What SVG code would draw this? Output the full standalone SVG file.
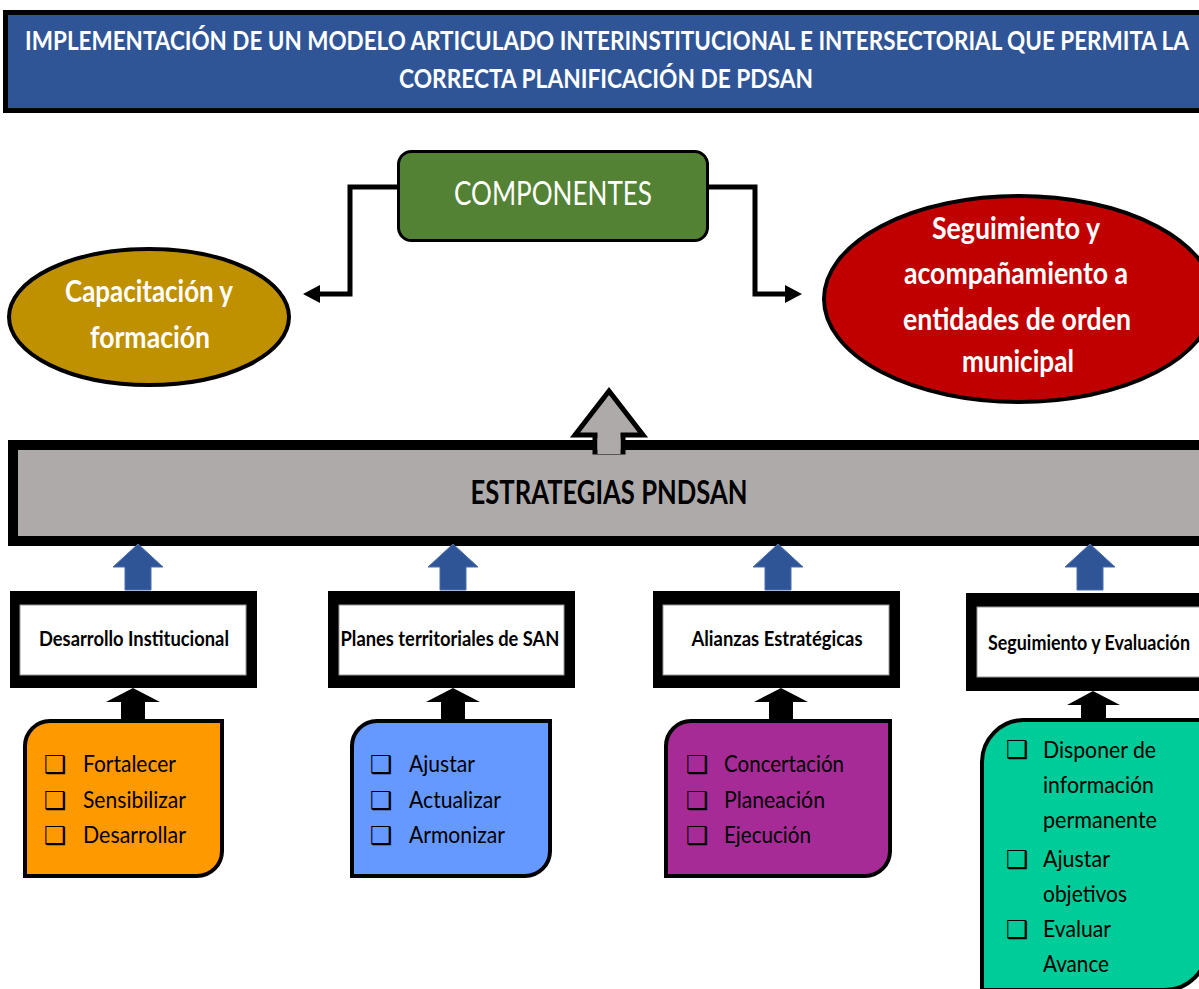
<svg xmlns="http://www.w3.org/2000/svg" width="1199" height="989" viewBox="0 0 1199 989">
<style>
.t{font-family:Lato,"Open Sans","Liberation Sans",sans-serif}
.w{fill:#fff}
.k{fill:#000}
.lbl{font-family:Lato,"Open Sans","Liberation Sans",sans-serif;font-size:20px;font-weight:bold;fill:#000}
.li{font-family:Lato,"Open Sans","Liberation Sans",sans-serif;font-size:24px;fill:#000}
.bl{font-family:"DejaVu Sans",sans-serif;font-size:25px;font-weight:bold;fill:#000}
.blue{fill:#2F5597;stroke:#4a6fb0;stroke-width:1}
.list{stroke:#000;stroke-width:4}
</style>

<g id="title">
<rect x="5.5" y="12.5" width="1200" height="98" fill="#2F5597" stroke="#000" stroke-width="5"/>
<text class="t w" transform="scale(0.78,1)" x="778.2" y="50" font-size="26" font-weight="bold" text-anchor="middle" textLength="1492" lengthAdjust="spacingAndGlyphs">IMPLEMENTACIÓN DE UN MODELO ARTICULADO INTERINSTITUCIONAL E INTERSECTORIAL QUE PERMITA LA</text>
<text class="t w" x="606" y="88" font-size="26" font-weight="bold" text-anchor="middle" textLength="414" lengthAdjust="spacingAndGlyphs">CORRECTA PLANIFICACIÓN DE PDSAN</text>
</g>

<g id="connectors">
<polyline points="398,187 350,187 350,294 316,294" fill="none" stroke="#000" stroke-width="5"/>
<polygon points="303,294 320,285 320,303" fill="#000"/>
<polyline points="708,187 755,187 755,294 789,294" fill="none" stroke="#000" stroke-width="5"/>
<polygon points="802,294 785,285 785,303" fill="#000"/>
</g>

<g id="componentes">
<rect x="398.5" y="151.5" width="309" height="89" rx="13" fill="#548235" stroke="#000" stroke-width="3"/>
<text class="t w" x="553" y="205" font-size="32" text-anchor="middle" textLength="198" lengthAdjust="spacingAndGlyphs">COMPONENTES</text>
</g>

<g id="capacitacion">
<ellipse cx="149" cy="317" rx="140" ry="68" fill="#BF9000" stroke="#000" stroke-width="4"/>
<text class="t w" x="149" y="302" font-size="30" font-weight="bold" text-anchor="middle" textLength="168" lengthAdjust="spacingAndGlyphs">Capacitación y</text>
<text class="t w" x="150" y="348" font-size="30" font-weight="bold" text-anchor="middle" textLength="120" lengthAdjust="spacingAndGlyphs">formación</text>
</g>

<g id="seguimiento-acomp">
<ellipse cx="1019" cy="299" rx="195" ry="103" fill="#C00000" stroke="#000" stroke-width="4"/>
<text class="t w" x="1016" y="239" font-size="30" font-weight="bold" text-anchor="middle" textLength="168" lengthAdjust="spacingAndGlyphs">Seguimiento y</text>
<text class="t w" x="1016" y="284" font-size="30" font-weight="bold" text-anchor="middle" textLength="224" lengthAdjust="spacingAndGlyphs">acompañamiento a</text>
<text class="t w" x="1017" y="330" font-size="30" font-weight="bold" text-anchor="middle" textLength="228" lengthAdjust="spacingAndGlyphs">entidades de orden</text>
<text class="t w" x="1018" y="372" font-size="30" font-weight="bold" text-anchor="middle" textLength="112" lengthAdjust="spacingAndGlyphs">municipal</text>
</g>

<g id="estrategias">
<rect x="13" y="445" width="1200" height="96" fill="#AEAAAA" stroke="#000" stroke-width="10"/>
<polygon points="609,391 643,435 623,435 623,452 595,452 595,435 575,435" fill="#AEAAAA" stroke="#000" stroke-width="5" stroke-linejoin="miter"/>
<rect x="597.5" y="438" width="23" height="16" fill="#AEAAAA"/>
<text class="t k" x="609" y="504" font-size="32" font-weight="bold" text-anchor="middle" textLength="277" lengthAdjust="spacingAndGlyphs">ESTRATEGIAS PNDSAN</text>
</g>

<g id="blue-arrows">
<polygon class="blue" points="138,544 163,567 151,567 151,590 125,590 125,567 113,567"/>
<polygon class="blue" points="453,544 478,567 466,567 466,590 440,590 440,567 428,567"/>
<polygon class="blue" points="778,544 803,567 791,567 791,590 765,590 765,567 753,567"/>
<polygon class="blue" points="1090,544 1115,567 1103,567 1103,590 1077,590 1077,567 1065,567"/>
</g>

<g id="desarrollo-institucional">
<rect x="10" y="591" width="247" height="97" fill="#000"/>
<rect x="20" y="605" width="226" height="70" fill="#fff" stroke="#999" stroke-width="1"/>
<text class="lbl" x="134" y="646" text-anchor="middle" textLength="190" lengthAdjust="spacingAndGlyphs">Desarrollo Institucional</text>
</g>

<g id="planes-territoriales">
<rect x="328" y="591" width="247" height="97" fill="#000"/>
<rect x="339" y="605" width="225" height="70" fill="#fff" stroke="#999" stroke-width="1"/>
<text class="lbl" x="450" y="646" text-anchor="middle" textLength="219" lengthAdjust="spacingAndGlyphs">Planes territoriales de SAN</text>
</g>

<g id="alianzas">
<rect x="653" y="591" width="247" height="97" fill="#000"/>
<rect x="663" y="605" width="226" height="70" fill="#fff" stroke="#999" stroke-width="1"/>
<text class="lbl" x="777" y="646" text-anchor="middle" textLength="171" lengthAdjust="spacingAndGlyphs">Alianzas Estratégicas</text>
</g>

<g id="seguimiento-evaluacion">
<rect x="966" y="593" width="250" height="98" fill="#000"/>
<rect x="977" y="607" width="240" height="70" fill="#fff" stroke="#999" stroke-width="1"/>
<text class="lbl" transform="scale(0.86,1)" x="1148.8" y="650" textLength="234.9" lengthAdjust="spacingAndGlyphs">Seguimiento y Evaluación</text>
</g>

<g id="black-arrows">
<polygon class="k" points="133,688 160,702 145,702 145,719 121,719 121,702 106,702"/>
<polygon class="k" points="453,688 480,702 465,702 465,719 441,719 441,702 426,702"/>
<polygon class="k" points="781,688 808,702 793,702 793,719 769,719 769,702 754,702"/>
<polygon class="k" points="1093,691 1120,705 1106,705 1106,719 1081,719 1081,705 1067,705"/>
</g>

<g id="list-desarrollo">
<path class="list" d="M50,721 H222 V851 A25,25 0 0 1 197,876 H25 V746 A25,25 0 0 1 50,721 Z" fill="#FF9900"/>
<text class="bl" x="44" y="773">❑</text>
<text class="bl" x="44" y="809">❑</text>
<text class="bl" x="44" y="844">❑</text>
<text class="li" x="83" y="772" textLength="93" lengthAdjust="spacingAndGlyphs">Fortalecer</text>
<text class="li" x="83" y="808" textLength="103" lengthAdjust="spacingAndGlyphs">Sensibilizar</text>
<text class="li" x="83" y="843" textLength="103" lengthAdjust="spacingAndGlyphs">Desarrollar</text>
</g>

<g id="list-planes">
<path class="list" d="M377,721 H550 V851 A25,25 0 0 1 525,876 H352 V746 A25,25 0 0 1 377,721 Z" fill="#6699FF"/>
<text class="bl" x="370" y="773">❑</text>
<text class="bl" x="370" y="809">❑</text>
<text class="bl" x="370" y="844">❑</text>
<text class="li" x="409" y="772" textLength="66" lengthAdjust="spacingAndGlyphs">Ajustar</text>
<text class="li" x="409" y="808" textLength="92" lengthAdjust="spacingAndGlyphs">Actualizar</text>
<text class="li" x="409" y="843" textLength="96" lengthAdjust="spacingAndGlyphs">Armonizar</text>
</g>

<g id="list-alianzas">
<path class="list" d="M691,721 H890 V851 A25,25 0 0 1 865,876 H666 V746 A25,25 0 0 1 691,721 Z" fill="#A62B96"/>
<text class="bl" x="686" y="773">❑</text>
<text class="bl" x="686" y="809">❑</text>
<text class="bl" x="686" y="844">❑</text>
<text class="li" x="724" y="772" textLength="120" lengthAdjust="spacingAndGlyphs">Concertación</text>
<text class="li" x="724" y="808" textLength="101" lengthAdjust="spacingAndGlyphs">Planeación</text>
<text class="li" x="724" y="843" textLength="87" lengthAdjust="spacingAndGlyphs">Ejecución</text>
</g>

<g id="list-seguimiento">
<path class="list" d="M1024,720 H1207 V948 A42,42 0 0 1 1165,990 H982 V762 A42,42 0 0 1 1024,720 Z" fill="#00CC99"/>
<text class="bl" x="1006" y="758">❑</text>
<text class="bl" x="1006" y="868">❑</text>
<text class="bl" x="1006" y="938">❑</text>
<text class="li" x="1043" y="758" textLength="113" lengthAdjust="spacingAndGlyphs">Disponer de</text>
<text class="li" x="1043" y="793" textLength="111" lengthAdjust="spacingAndGlyphs">información</text>
<text class="li" x="1043" y="828" textLength="114" lengthAdjust="spacingAndGlyphs">permanente</text>
<text class="li" x="1043" y="867" textLength="67" lengthAdjust="spacingAndGlyphs">Ajustar</text>
<text class="li" x="1043" y="902" textLength="84" lengthAdjust="spacingAndGlyphs">objetivos</text>
<text class="li" x="1043" y="937" textLength="68" lengthAdjust="spacingAndGlyphs">Evaluar</text>
<text class="li" x="1043" y="972" textLength="66" lengthAdjust="spacingAndGlyphs">Avance</text>
</g>
</svg>
